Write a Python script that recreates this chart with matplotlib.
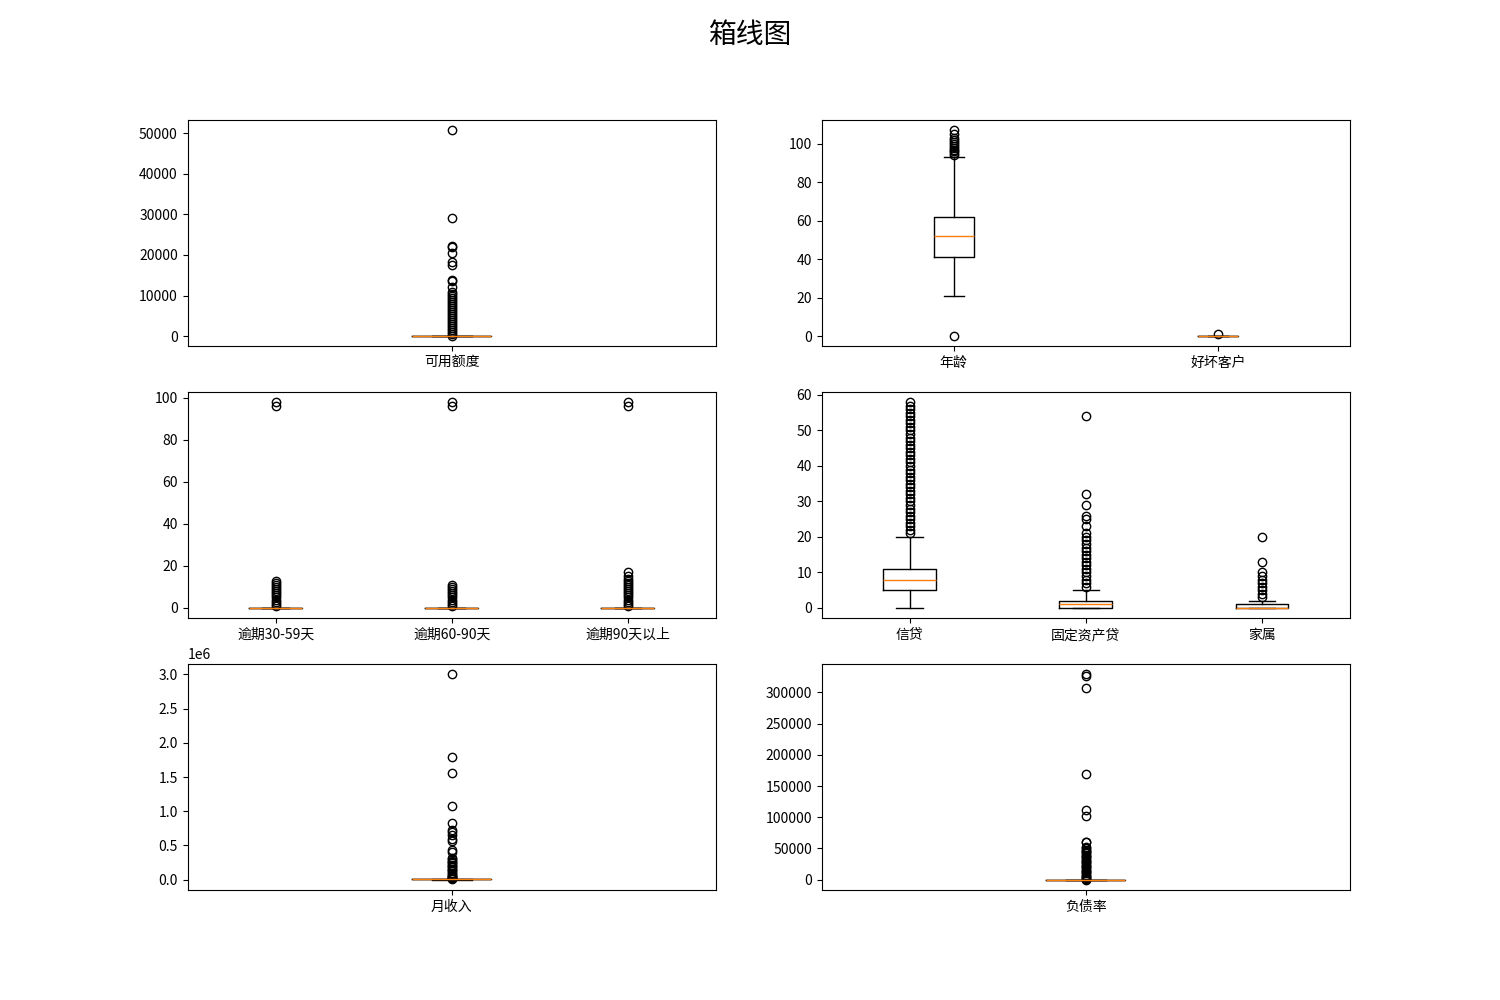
import matplotlib
matplotlib.use('Agg')
import matplotlib.pyplot as plt

plt.rcParams['font.family'] = ['Noto Sans CJK SC', 'DejaVu Sans']
plt.rcParams['axes.unicode_minus'] = False

# 箱体: [下须, 下四分位, 中位数, 上四分位, 上须]
util_box = [0, 0.03, 0.15, 0.56, 1.35]
util_fliers = [1.4, 500, 1000, 1500, 2000, 2500, 3000, 3500, 4000, 4500, 5000,
               5500, 6000, 6500, 7000, 7500, 8000, 8500, 9000, 9500, 10000,
               10500, 11000, 12100, 13500, 13900, 17500, 18200, 20500, 21900,
               22100, 29100, 50700]

age_box = [21, 41, 52, 62, 93]
age_fliers = [0, 94, 95, 96, 97, 98, 99, 100, 101, 102, 103, 105, 107]

bad_box = [0, 0, 0, 0, 0]
bad_fliers = [1]

due30_box = [0, 0, 0, 0, 0]
due30_fliers = [1, 2, 3, 4, 5, 6, 7, 8, 9, 10, 11, 12, 13, 96, 98]
due60_box = [0, 0, 0, 0, 0]
due60_fliers = [1, 2, 3, 4, 5, 6, 7, 8, 9, 10, 11, 96, 98]
due90_box = [0, 0, 0, 0, 0]
due90_fliers = [1, 2, 3, 4, 5, 6, 7, 8, 9, 10, 11, 12, 13, 14, 15, 17, 96, 98]

credit_box = [0, 5, 8, 11, 20]
credit_fliers = [21, 22, 23, 24, 25, 26, 27, 28, 29, 30, 31, 32, 33, 34, 35,
                 36, 37, 38, 39, 40, 41, 42, 43, 44, 45, 46, 47, 48, 49, 50,
                 51, 52, 53, 54, 55, 56, 57, 58]
estate_box = [0, 0, 1, 2, 5]
estate_fliers = [6, 7, 8, 9, 10, 11, 12, 13, 14, 15, 16, 17, 18, 19, 20, 21,
                 23, 25, 26, 29, 32, 54]
family_box = [0, 0, 0, 1, 2]
family_fliers = [3, 4, 5, 6, 7, 8, 9, 10, 13, 20]

income_box = [0, 3400, 5400, 8250, 15500]
income_fliers = [16000, 20000, 30000, 40000, 50000, 60000, 80000, 100000,
                 120000, 140000, 160000, 180000, 200000, 220000, 240000,
                 260000, 280000, 300000, 320000, 410000, 430000, 560000,
                 600000, 650000, 700000, 730000, 835000, 1072000, 1560000,
                 1794000, 3008000]

debt_box = [0, 0.175, 0.367, 0.868, 1.9]
debt_fliers = [2, 1000, 2000, 4000, 6000, 8000, 10000, 12000, 14000, 16000,
               18000, 20000, 22000, 24000, 26000, 28000, 30000, 32000, 34000,
               36000, 38000, 40000, 42000, 44000, 46000, 48000, 50000, 53000,
               60200, 61100, 101300, 111000, 168800, 307000, 326400, 329600]


def stat(label, box, fliers):
    return {'label': label, 'whislo': box[0], 'q1': box[1], 'med': box[2],
            'q3': box[3], 'whishi': box[4], 'fliers': fliers}


fig, axes = plt.subplots(3, 2, figsize=(15, 10))
fig.suptitle('箱线图', fontsize=20)

axes[0, 0].bxp([stat('可用额度', util_box, util_fliers)])
axes[0, 1].bxp([stat('年龄', age_box, age_fliers),
                stat('好坏客户', bad_box, bad_fliers)])
axes[1, 0].bxp([stat('逾期30-59天', due30_box, due30_fliers),
                stat('逾期60-90天', due60_box, due60_fliers),
                stat('逾期90天以上', due90_box, due90_fliers)])
axes[1, 1].bxp([stat('信贷', credit_box, credit_fliers),
                stat('固定资产贷', estate_box, estate_fliers),
                stat('家属', family_box, family_fliers)])
axes[2, 0].bxp([stat('月收入', income_box, income_fliers)])
axes[2, 1].bxp([stat('负债率', debt_box, debt_fliers)])

plt.savefig('out.png', dpi=100)
